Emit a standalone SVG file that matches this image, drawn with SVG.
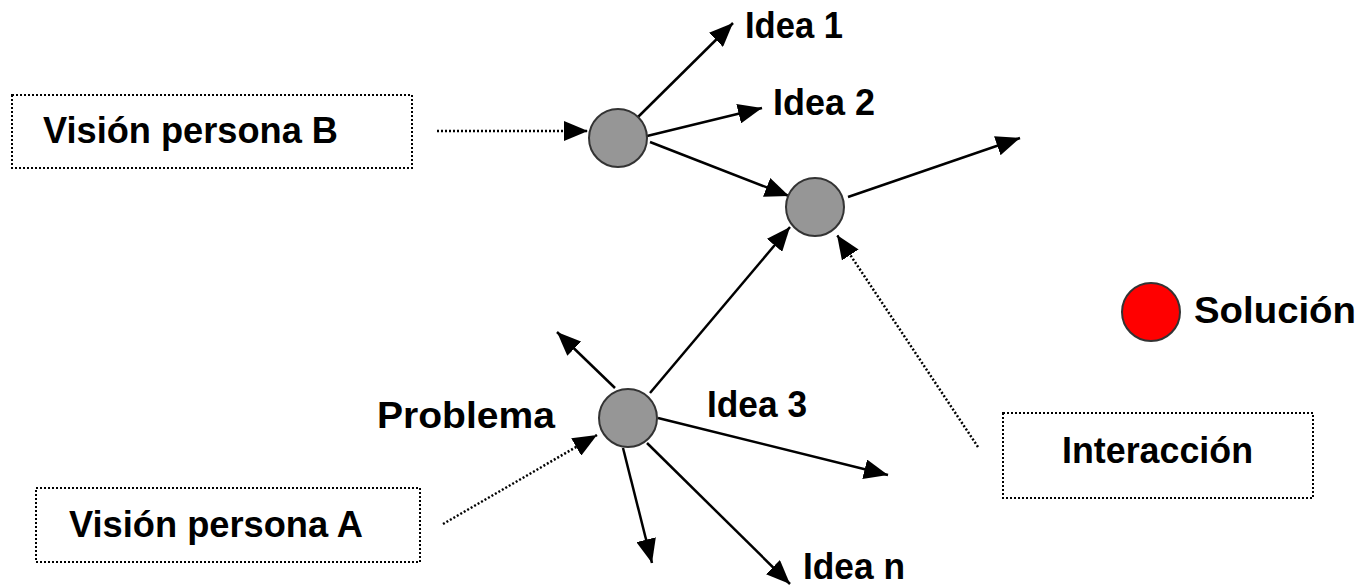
<svg xmlns="http://www.w3.org/2000/svg" width="1364" height="586" viewBox="0 0 1364 586">
<style>
.lbl{font-family:"Liberation Sans",Arial,sans-serif;font-weight:bold;font-size:36px;fill:#000}
.box{fill:#fff;stroke:#000;stroke-width:2;stroke-dasharray:2,2}
.node{fill:#969696;stroke:#333;stroke-width:2}
.sol{fill:#ff0000;stroke:#333;stroke-width:2}
.arr{stroke:#000;stroke-width:2.5;fill:none;marker-end:url(#ah)}
.dot{stroke:#000;stroke-width:2.5;fill:none;stroke-dasharray:2,2;marker-end:url(#ah)}
</style>
<defs>
<marker id="ah" markerUnits="userSpaceOnUse" markerWidth="24" markerHeight="20" refX="24" refY="10" orient="auto">
<path d="M0,0 L24,10 L0,20 z" fill="#000"/>
</marker>
</defs>
<rect width="1364" height="586" fill="#fff"/>
<g id="connectors">
<line class="dot" x1="437" y1="131" x2="588" y2="131"/>
<line class="arr" x1="638" y1="117" x2="733" y2="23"/>
<line class="arr" x1="647" y1="136" x2="762" y2="108"/>
<line class="arr" x1="650" y1="142" x2="789" y2="196"/>
<line class="arr" x1="848" y1="197" x2="1020" y2="138"/>
<line class="arr" x1="650" y1="393" x2="790" y2="227"/>
<line class="arr" x1="615" y1="388" x2="557" y2="332"/>
<line class="arr" x1="658" y1="418" x2="888" y2="475"/>
<line class="arr" x1="623" y1="448" x2="652" y2="563"/>
<line class="arr" x1="647" y1="443" x2="790" y2="584"/>
<line class="dot" x1="443" y1="524" x2="597" y2="435"/>
<line class="dot" x1="978" y1="447" x2="837" y2="235"/>
</g>
<g id="vision-b">
<rect class="box" x="12" y="95" width="400" height="73"/>
<text class="lbl" x="43" y="143" textLength="295" lengthAdjust="spacingAndGlyphs">Visión persona B</text>
</g>
<g id="vision-a">
<rect class="box" x="36" y="488" width="384" height="74"/>
<text class="lbl" x="69" y="537" textLength="294" lengthAdjust="spacingAndGlyphs">Visión persona A</text>
</g>
<g id="interaccion">
<rect class="box" x="1003" y="413" width="310" height="85"/>
<text class="lbl" x="1062" y="463" textLength="191" lengthAdjust="spacingAndGlyphs">Interacción</text>
</g>
<g id="node-b">
<circle class="node" cx="618" cy="138" r="29"/>
</g>
<g id="node-mid">
<circle class="node" cx="815" cy="207" r="29"/>
</g>
<g id="problema">
<circle class="node" cx="628" cy="418" r="29"/>
<text class="lbl" x="377" y="428" textLength="178" lengthAdjust="spacingAndGlyphs">Problema</text>
</g>
<g id="solucion">
<circle class="sol" cx="1151" cy="312" r="29"/>
<text class="lbl" x="1194" y="323" textLength="162" lengthAdjust="spacingAndGlyphs">Solución</text>
</g>
<g id="ideas">
<text class="lbl" x="745" y="38" textLength="98" lengthAdjust="spacingAndGlyphs">Idea 1</text>
<text class="lbl" x="773" y="115" textLength="102" lengthAdjust="spacingAndGlyphs">Idea 2</text>
<text class="lbl" x="707" y="417" textLength="100" lengthAdjust="spacingAndGlyphs">Idea 3</text>
<text class="lbl" x="803" y="579" textLength="102" lengthAdjust="spacingAndGlyphs">Idea n</text>
</g>
</svg>
